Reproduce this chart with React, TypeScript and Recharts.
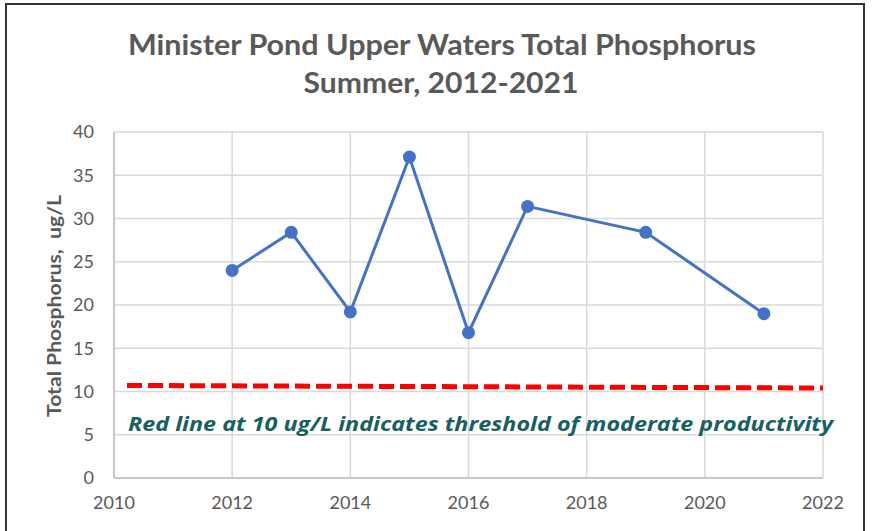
import React from 'react';
import {
	LineChart,
	Line,
	XAxis,
	YAxis,
	CartesianGrid
} from 'recharts';

const years = [2012, 2013, 2014, 2015, 2016, 2017, 2019, 2021];
const phosphorus = [24.0, 28.4, 19.2, 37.1, 16.8, 31.4, 28.4, 19.0];

const thresholdYears = [2010.22, 2022];
const thresholdValues = [10.7, 10.4];

const xTicks = [2010, 2012, 2014, 2016, 2018, 2020, 2022];
const yTicks = [0, 5, 10, 15, 20, 25, 30, 35, 40];

const seriesData = years.map((year, i) => ({ year, tp: phosphorus[i] }));
const thresholdData = thresholdYears.map((year, i) => ({
	year,
	tp: thresholdValues[i]
}));

const tickStyle = { fontSize: 18, fill: '#595959', fontFamily: 'Lato' };
const titleStyle = { fontFamily: 'Lato', fontWeight: 700, fontSize: 28 };

const App = () => {
	return (
		<div style={{ position: 'relative', width: 872, height: 531 }}>
			<style>{'body{margin:0}'}</style>
			<div
				style={{
					position: 'absolute',
					left: 5,
					top: 3,
					width: 860,
					height: 540,
					border: '2px solid #333',
					boxSizing: 'border-box'
				}}
			/>
			<LineChart
				width={872}
				height={531}
				data={seriesData}
				margin={{ top: 132, right: 49, left: 0, bottom: 0 }}
			>
				<CartesianGrid stroke="#d9d9d9" strokeWidth={1.5} />
				<XAxis
					dataKey="year"
					type="number"
					domain={[2010, 2022]}
					ticks={xTicks}
					allowDataOverflow
					height={53}
					tickLine={false}
					axisLine={{ stroke: '#c8c8c8', strokeWidth: 2 }}
					tick={tickStyle}
					tickMargin={12}
				/>
				<YAxis
					type="number"
					domain={[0, 40]}
					ticks={yTicks}
					width={114}
					tickLine={false}
					axisLine={{ stroke: '#c8c8c8', strokeWidth: 2 }}
					tick={tickStyle}
					tickMargin={14}
				/>
				<Line
					data={thresholdData}
					dataKey="tp"
					stroke="#ff0000"
					strokeWidth={5}
					strokeDasharray="15 6"
					dot={false}
					isAnimationActive={false}
				/>
				<Line
					dataKey="tp"
					stroke="#4472c4"
					strokeWidth={3}
					dot={{ r: 5, fill: '#4472c4', stroke: '#4472c4' }}
					isAnimationActive={false}
				/>
			</LineChart>
			<svg
				width={872}
				height={531}
				style={{ position: 'absolute', left: 0, top: 0, pointerEvents: 'none' }}
			>
				<text
					x={442}
					y={55}
					textAnchor="middle"
					fill="#595959"
					textLength={628}
					lengthAdjust="spacingAndGlyphs"
					style={titleStyle}
				>
					Minister Pond Upper Waters Total Phosphorus
				</text>
				<text
					x={441}
					y={93}
					textAnchor="middle"
					fill="#595959"
					textLength={275}
					lengthAdjust="spacingAndGlyphs"
					style={titleStyle}
				>
					Summer, 2012-2021
				</text>
				<text
					transform="translate(61,306) rotate(-90)"
					textAnchor="middle"
					fill="#595959"
					textLength={222}
					lengthAdjust="spacingAndGlyphs"
					style={{ fontFamily: 'Lato', fontWeight: 700, fontSize: 18, whiteSpace: 'pre' }}
				>
					{'Total Phosphorus,\u00a0\u00a0ug/L'}
				</text>
				<text
					x={128}
					y={431}
					fill="#17605f"
					textLength={705}
					lengthAdjust="spacingAndGlyphs"
					style={{
						fontFamily: 'Open Sans',
						fontWeight: 700,
						fontStyle: 'italic',
						fontSize: 20
					}}
				>
					Red line at 10 ug/L indicates threshold of moderate productivity
				</text>
			</svg>
		</div>
	);
};

export default App;
